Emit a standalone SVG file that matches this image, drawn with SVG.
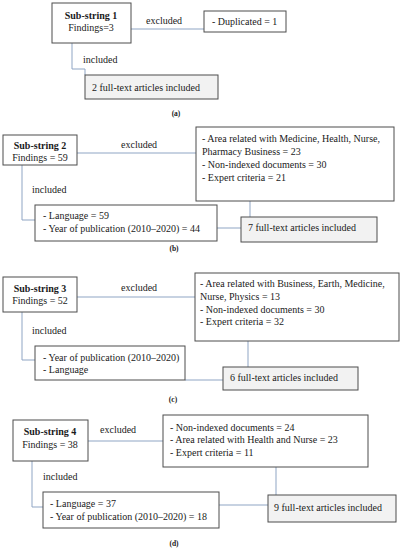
<svg xmlns="http://www.w3.org/2000/svg" width="404" height="550" viewBox="0 0 404 550">
<style>
text{font-family:"Liberation Serif","Times New Roman",serif;font-size:10px;fill:#1a1a1a}
.b{font-weight:bold}
.c{text-anchor:middle}
.cap{font-weight:bold;font-size:7.5px;text-anchor:middle}
.box{fill:#ffffff;stroke:#4d4d4d;stroke-width:1}
.res{fill:#f2f2f2;stroke:#4d4d4d;stroke-width:1}
.ln{fill:none;stroke:#8fa5c4;stroke-width:1}
</style>
<rect width="404" height="550" fill="#ffffff"/>
<g id="connectors">
<line class="ln" x1="131" y1="29" x2="204" y2="29"/>
<polyline class="ln" points="72,43 72,69 85,69 85,75"/>
<line class="ln" x1="77" y1="153" x2="196" y2="153"/>
<polyline class="ln" points="22,165 22,220 35,220"/>
<line class="ln" x1="250" y1="201" x2="250" y2="217"/>
<line class="ln" x1="217" y1="228" x2="241" y2="228"/>
<line class="ln" x1="77" y1="297" x2="195" y2="297"/>
<polyline class="ln" points="22,312 22,360 35,360"/>
<line class="ln" x1="248" y1="341" x2="248" y2="367"/>
<line class="ln" x1="185" y1="380" x2="223" y2="380"/>
<line class="ln" x1="88" y1="441" x2="163" y2="441"/>
<polyline class="ln" points="32,461 32,507 43,507"/>
<line class="ln" x1="276" y1="467" x2="276" y2="495"/>
<line class="ln" x1="219" y1="505" x2="268" y2="505"/>
</g>
<g id="labels">
<text x="146" y="24">excluded</text>
<text x="83" y="63">included</text>
<text x="121" y="148">excluded</text>
<text x="32" y="193">included</text>
<text x="121" y="291">excluded</text>
<text x="32" y="334">included</text>
<text x="100" y="433">excluded</text>
<text x="43" y="480">included</text>
<text class="cap" x="176" y="116">(a)</text>
<text class="cap" x="174" y="251">(b)</text>
<text class="cap" x="173" y="402">(c)</text>
<text class="cap" x="174" y="546">(d)</text>
</g>
<g id="sub1">
<rect class="box" x="52" y="3" width="79" height="40"/>
<text class="b c" x="91" y="19">Sub-string 1</text>
<text class="c" x="91" y="31">Findings=3</text>
</g>
<g id="excl1">
<rect class="box" x="204" y="11" width="82" height="21"/>
<text x="212" y="25">- Duplicated = 1</text>
</g>
<g id="res1">
<rect class="res" x="85" y="75" width="133" height="24"/>
<text x="92" y="91">2 full-text articles included</text>
</g>
<g id="sub2">
<rect class="box" x="3" y="135" width="74" height="30"/>
<text class="b c" x="40" y="149">Sub-string 2</text>
<text class="c" x="40" y="161">Findings = 59</text>
</g>
<g id="excl2">
<rect class="box" x="196" y="127" width="198" height="74"/>
<text x="202" y="142">- Area related with Medicine, Health, Nurse,</text>
<text x="202" y="155">Pharmacy Business = 23</text>
<text x="202" y="168">- Non-indexed documents = 30</text>
<text x="202" y="181">- Expert criteria = 21</text>
</g>
<g id="incl2">
<rect class="box" x="35" y="205" width="182" height="36"/>
<text x="43" y="219">- Language = 59</text>
<text x="43" y="232">- Year of publication (2010–2020) = 44</text>
</g>
<g id="res2">
<rect class="res" x="241" y="217" width="136" height="25"/>
<text x="248" y="231">7 full-text articles included</text>
</g>
<g id="sub3">
<rect class="box" x="3" y="277" width="74" height="35"/>
<text class="b c" x="40" y="292">Sub-string 3</text>
<text class="c" x="40" y="304">Findings = 52</text>
</g>
<g id="excl3">
<rect class="box" x="195" y="273" width="204" height="68"/>
<text x="200" y="287">- Area related with Business, Earth, Medicine,</text>
<text x="200" y="300">Nurse, Physics = 13</text>
<text x="200" y="313">- Non-indexed documents = 30</text>
<text x="200" y="325">- Expert criteria = 32</text>
</g>
<g id="incl3">
<rect class="box" x="35" y="346" width="150" height="34"/>
<text x="43" y="361">- Year of publication (2010–2020)</text>
<text x="43" y="373">- Language</text>
</g>
<g id="res3">
<rect class="res" x="223" y="367" width="135" height="23"/>
<text x="230" y="381">6 full-text articles included</text>
</g>
<g id="sub4">
<rect class="box" x="13" y="420" width="75" height="41"/>
<text class="b c" x="50" y="435">Sub-string 4</text>
<text class="c" x="50" y="448">Findings = 38</text>
</g>
<g id="excl4">
<rect class="box" x="163" y="415" width="205" height="52"/>
<text x="170" y="431">- Non-indexed documents = 24</text>
<text x="170" y="443">- Area related with Health and Nurse = 23</text>
<text x="170" y="456">- Expert criteria = 11</text>
</g>
<g id="incl4">
<rect class="box" x="43" y="492" width="176" height="36"/>
<text x="50" y="507">- Language = 37</text>
<text x="50" y="520">- Year of publication (2010–2020) = 18</text>
</g>
<g id="res4">
<rect class="res" x="268" y="495" width="128" height="27"/>
<text x="274" y="511">9 full-text articles included</text>
</g>
</svg>
